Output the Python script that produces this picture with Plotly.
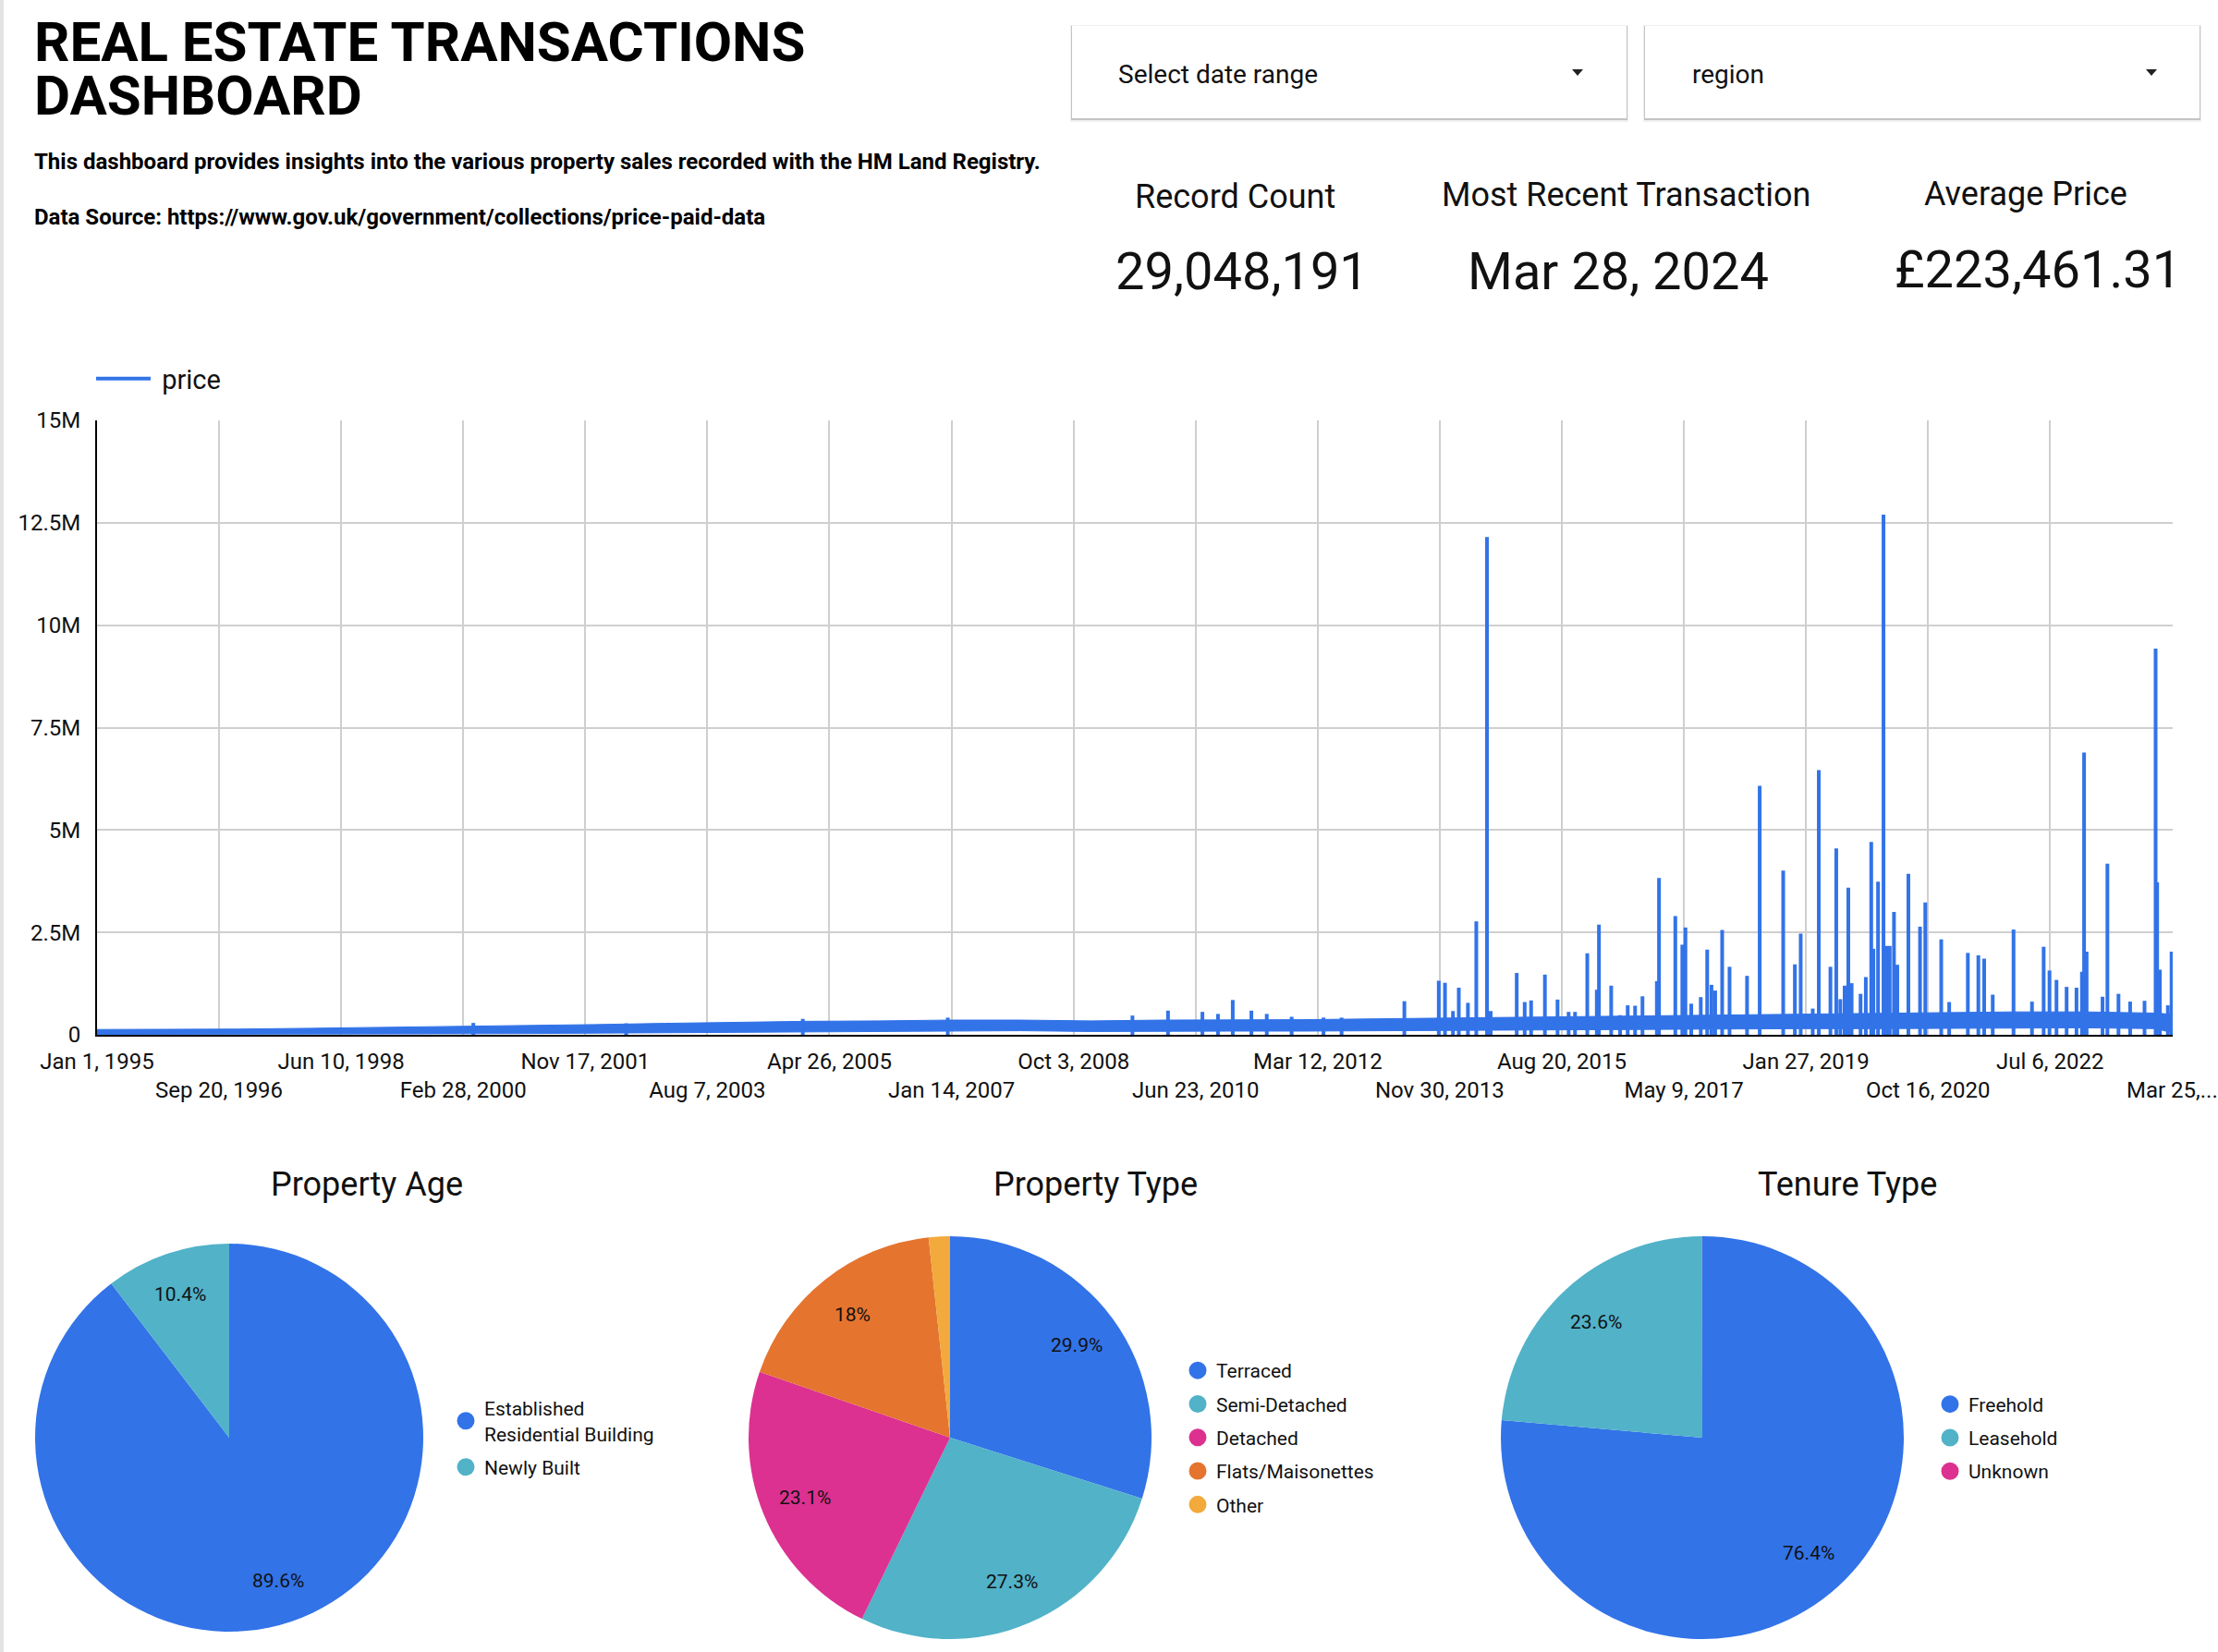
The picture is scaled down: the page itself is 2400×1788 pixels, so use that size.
import math
import plotly.graph_objects as go

W, H = 2400, 1788

# ---------------- data ----------------
title_lines = ["REAL ESTATE TRANSACTIONS", "DASHBOARD"]
subtitle = "This dashboard provides insights into the various property sales recorded with the HM Land Registry."
source_text = "Data Source: https://www.gov.uk/government/collections/price-paid-data"
filter_labels = ["Select date range", "region"]

kpi_labels = ["Record Count", "Most Recent Transaction", "Average Price"]
kpi_values = ["29,048,191", "Mar 28, 2024", "£223,461.31"]

# daily average price band (lower / upper edge of the dense noise band), £ millions
band_dates = ["1995-01-01", "1996-01-01", "1997-01-01", "1998-01-01", "1999-01-01",
              "2000-01-01", "2001-01-01", "2002-01-01", "2003-01-01", "2004-01-01",
              "2005-01-01", "2006-01-01", "2007-01-01", "2008-01-01", "2009-01-01",
              "2010-01-01", "2011-01-01", "2012-01-01", "2013-01-01", "2014-01-01",
              "2015-01-01", "2016-01-01", "2017-01-01", "2018-01-01", "2019-01-01",
              "2020-01-01", "2021-01-01", "2022-01-01", "2023-01-01", "2024-01-01",
              "2024-03-28"]
band_low_m = [0.01, 0.01, 0.01, 0.015, 0.02, 0.025, 0.03, 0.04, 0.05, 0.07,
              0.08, 0.09, 0.10, 0.10, 0.08, 0.09, 0.09, 0.09, 0.10, 0.10,
              0.11, 0.12, 0.13, 0.14, 0.15, 0.15, 0.16, 0.17, 0.17, 0.15,
              0.05]
band_high_m = [0.13, 0.13, 0.14, 0.16, 0.18, 0.21, 0.23, 0.25, 0.28, 0.31,
               0.33, 0.34, 0.36, 0.36, 0.34, 0.36, 0.36, 0.37, 0.39, 0.41,
               0.42, 0.44, 0.46, 0.48, 0.50, 0.53, 0.55, 0.56, 0.56, 0.53,
               0.50]

# individual high-price days (spikes), £ millions
spike_dates = ["2000-04-20", "2002-06-15", "2004-12-10", "2006-12-26", "2009-08-02",
               "2010-02-01", "2010-07-28", "2010-10-16", "2010-12-31", "2011-04-06",
               "2011-06-24", "2011-10-30", "2012-04-11", "2012-07-13", "2013-06-01",
               "2013-11-25", "2013-12-27", "2014-02-06", "2014-03-08", "2014-04-24",
               "2014-06-06", "2014-07-31", "2014-08-19", "2014-12-31", "2015-02-10",
               "2015-03-15", "2015-05-25", "2015-07-29", "2015-09-24", "2015-10-27",
               "2015-12-29", "2016-02-16", "2016-02-27", "2016-04-30", "2016-06-15",
               "2016-07-24", "2016-08-31", "2016-10-08", "2016-12-21", "2017-01-01",
               "2017-03-26", "2017-05-01", "2017-05-17", "2017-06-16", "2017-08-04",
               "2017-09-06", "2017-09-28", "2017-10-17", "2017-11-22", "2017-12-30",
               "2018-03-30", "2018-06-03", "2018-10-02", "2018-12-01", "2018-12-31",
               "2019-03-03", "2019-04-03", "2019-06-02", "2019-07-02", "2019-07-23",
               "2019-08-14", "2019-09-02", "2019-09-19", "2019-11-04", "2019-12-01",
               "2019-12-29", "2020-01-09", "2020-02-02", "2020-03-01", "2020-03-17",
               "2020-04-02", "2020-04-24", "2020-05-11", "2020-07-07", "2020-09-05",
               "2020-10-02", "2020-12-23", "2021-02-02", "2021-05-09", "2021-07-02",
               "2021-08-01", "2021-09-14", "2021-12-30", "2022-04-04", "2022-06-03",
               "2022-07-03", "2022-08-08", "2022-09-29", "2022-11-19", "2022-12-17",
               "2022-12-28", "2023-01-10", "2023-04-02", "2023-04-27", "2023-06-23",
               "2023-08-22", "2023-11-04", "2023-12-31", "2024-01-08", "2024-01-22",
               "2024-03-03", "2024-03-22"]
spike_price_m = [0.29, 0.28, 0.39, 0.42, 0.47,
                 0.59, 0.56, 0.51, 0.85, 0.59,
                 0.51, 0.44, 0.42, 0.42, 0.82,
                 1.32, 1.27, 0.58, 1.15, 0.78,
                 2.77, 12.15, 0.58, 1.51, 0.80,
                 0.84, 1.47, 0.86, 0.56, 0.56,
                 1.99, 1.10, 2.69, 1.20, 0.48,
                 0.72, 0.71, 0.94, 1.31, 3.83,
                 2.90, 2.20, 2.62, 0.76, 0.92,
                 2.08, 1.22, 1.08, 2.56, 1.66,
                 1.44, 6.08, 4.01, 1.72, 2.47,
                 0.64, 6.46, 1.66, 4.55, 0.87,
                 1.20, 3.59, 1.26, 1.00, 1.41,
                 4.71, 2.10, 3.74, 12.70, 2.17,
                 2.17, 3.00, 1.71, 3.93, 2.64,
                 3.23, 2.33, 0.80, 2.00, 1.94,
                 1.86, 0.98, 2.57, 0.81, 2.15,
                 1.57, 1.34, 1.17, 1.15, 1.54,
                 6.89, 2.03, 0.93, 4.18, 1.00,
                 0.81, 0.83, 9.43, 3.72, 1.59,
                 0.72, 2.03]

x_range = ["1995-01-01", "2024-03-28"]
x_tick_dates = ["1995-01-01", "1996-09-20", "1998-06-10", "2000-02-28", "2001-11-17",
                "2003-08-07", "2005-04-26", "2007-01-14", "2008-10-03", "2010-06-23",
                "2012-03-12", "2013-11-30", "2015-08-20", "2017-05-09", "2019-01-27",
                "2020-10-16", "2022-07-06", "2024-03-25"]
x_tick_labels = ["Jan 1, 1995", "Sep 20, 1996", "Jun 10, 1998", "Feb 28, 2000", "Nov 17, 2001",
                 "Aug 7, 2003", "Apr 26, 2005", "Jan 14, 2007", "Oct 3, 2008", "Jun 23, 2010",
                 "Mar 12, 2012", "Nov 30, 2013", "Aug 20, 2015", "May 9, 2017", "Jan 27, 2019",
                 "Oct 16, 2020", "Jul 6, 2022", "Mar 25,..."]
y_tick_values_m = [0, 2.5, 5, 7.5, 10, 12.5, 15]
y_tick_labels = ["0", "2.5M", "5M", "7.5M", "10M", "12.5M", "15M"]

pie_titles = ["Property Age", "Property Type", "Tenure Type"]
age_labels = ["Established<br>Residential Building", "Newly Built"]
age_share = [89.6, 10.4]
type_labels = ["Terraced", "Semi-Detached", "Detached", "Flats/Maisonettes", "Other"]
type_share = [29.9, 27.3, 23.1, 18.0, 1.7]
tenure_labels = ["Freehold", "Leasehold", "Unknown"]
tenure_share = [76.4, 23.6, 0.02]

# ---------------- styling ----------------
BLUE = "#3273E8"
PALETTE = ["#3273E8", "#51B2C8", "#DC3190", "#E5742F", "#F1AA3B"]
FONT = "Roboto"
TXT = "#111111"


def PX(x):
    return x / W


def PY(y):
    return 1 - y / H


fig = go.Figure()

# price band
fig.add_trace(go.Scatter(x=band_dates, y=band_low_m, mode="lines",
                         line=dict(color=BLUE, width=1), showlegend=False,
                         hoverinfo="skip"))
fig.add_trace(go.Scatter(x=band_dates, y=band_high_m, mode="lines", fill="tonexty",
                         fillcolor=BLUE, line=dict(color=BLUE, width=1),
                         showlegend=False, hoverinfo="skip"))

# spikes
sx, sy = [], []
for d, v in zip(spike_dates, spike_price_m):
    sx += [d, d, None]
    sy += [0, v, None]
fig.add_trace(go.Scatter(x=sx, y=sy, mode="lines", name="\u00a0price",
                         line=dict(color=BLUE, width=4), legend="legend"))

# pies
pie_geom = [  # centre x, centre y, radius (px)
    (248, 1556, 210),
    (1028, 1556, 218),
    (1842, 1556, 218),
]
pie_data = [(age_labels, age_share), (type_labels, type_share), (tenure_labels, tenure_share)]
legend_names = ["legend2", "legend3", "legend4"]

annotations = []
for (labels, vals), (cx, cy, r), lname in zip(pie_data, pie_geom, legend_names):
    fig.add_trace(go.Pie(labels=labels, values=vals, sort=False, direction="clockwise",
                         rotation=0, textinfo="none", showlegend=False,
                         marker=dict(colors=PALETTE[:len(vals)], line=dict(width=0)),
                         domain=dict(x=[PX(cx - r), PX(cx + r)], y=[PY(cy + r), PY(cy - r)])))
    total = sum(vals)
    cum = 0
    for v in vals:
        mid = (cum + v / 2) / total * 2 * math.pi
        cum += v
        if v / total * 100 < 5:
            continue
        lx = cx + 0.78 * r * math.sin(mid)
        ly = cy - 0.78 * r * math.cos(mid)
        annotations.append(dict(x=PX(lx), y=PY(ly), xref="paper", yref="paper",
                                xanchor="center", yanchor="middle",
                                text=f"{v:g}%", showarrow=False,
                                font=dict(family=FONT, size=21, color=TXT)))
    # legend entries (circle markers)
    for lab, col in zip(labels, PALETTE):
        fig.add_trace(go.Scatter(x=[None], y=[None], mode="markers", name=lab,
                                 marker=dict(color=col, size=19, symbol="circle",
                                             line=dict(color=col, width=3)),
                                 legend=lname, legendgroup=lname + lab, showlegend=True))

# titles / text
annotations += [
    dict(x=PX(35), y=PY(45), text=title_lines[0], xanchor="left", yanchor="middle", height=58,
         font=dict(family=FONT, size=60, color="#000", weight="bold")),
    dict(x=PX(35), y=PY(103), text=title_lines[1], xanchor="left", yanchor="middle", height=58,
         font=dict(family=FONT, size=60, color="#000", weight="bold")),
    dict(x=PX(35), y=PY(175), text=subtitle, xanchor="left", yanchor="middle",
         font=dict(family=FONT, size=24, color="#000", weight="bold")),
    dict(x=PX(35), y=PY(235), text=source_text, xanchor="left", yanchor="middle",
         font=dict(family=FONT, size=24, color="#000", weight="bold")),
    dict(x=PX(1208), y=PY(80), text=filter_labels[0], xanchor="left", yanchor="middle",
         font=dict(family=FONT, size=28, color=TXT)),
    dict(x=PX(1829), y=PY(80), text=filter_labels[1], xanchor="left", yanchor="middle",
         font=dict(family=FONT, size=28, color=TXT)),
]
kpi_label_pos = [(1336, 213), (1760, 211), (2192, 210)]
kpi_value_pos = [(1344, 294), (1751, 294), (2205, 292)]
for lab, val, (lx, ly), (vx, vy) in zip(kpi_labels, kpi_values, kpi_label_pos, kpi_value_pos):
    annotations.append(dict(x=PX(lx), y=PY(ly), text=lab, xanchor="center", yanchor="middle",
                            font=dict(family=FONT, size=36, color=TXT)))
    annotations.append(dict(x=PX(vx), y=PY(vy), text=val, xanchor="center", yanchor="middle",
                            font=dict(family=FONT, size=56, color=TXT)))
for t, x in zip(pie_titles, [397, 1185, 1999]):
    annotations.append(dict(x=PX(x), y=PY(1282), text=t, xanchor="center", yanchor="middle",
                            font=dict(family=FONT, size=36, color=TXT)))
for a in annotations:
    a.setdefault("xref", "paper")
    a.setdefault("yref", "paper")
    a.setdefault("showarrow", False)

# dropdown boxes
shapes = [dict(type="rect", xref="paper", yref="paper", x0=0, x1=PX(4), y0=0, y1=1,
               fillcolor="#e3e3e3", line=dict(width=0))]
for bx0, bx1 in [(1160, 1760), (1780, 2380)]:
    by0, by1 = 28, 128
    shapes.append(dict(type="rect", xref="paper", yref="paper", x0=PX(bx0 - 2), x1=PX(bx1 + 2),
                       y0=PY(by1 + 4), y1=PY(by0 - 1), fillcolor="rgba(0,0,0,0.06)", line=dict(width=0)))
    shapes.append(dict(type="rect", xref="paper", yref="paper", x0=PX(bx0 - 1), x1=PX(bx1 + 1),
                       y0=PY(by1 + 2), y1=PY(by0), fillcolor="rgba(0,0,0,0.18)", line=dict(width=0)))
    shapes.append(dict(type="rect", xref="paper", yref="paper", x0=PX(bx0), x1=PX(bx1),
                       y0=PY(by1), y1=PY(by0), fillcolor="white", line=dict(width=0)))
for ax in [1707, 2328]:
    path = f"M {PX(ax - 6)} {PY(75)} L {PX(ax + 6)} {PY(75)} L {PX(ax)} {PY(82)} Z"
    shapes.append(dict(type="path", xref="paper", yref="paper", path=path,
                       fillcolor="#222", line=dict(width=0)))

tick_text = [t if i % 2 == 0 else "<br>" + t for i, t in enumerate(x_tick_labels)]

legend_common = dict(bgcolor="rgba(0,0,0,0)", borderwidth=0, xanchor="left", yanchor="middle",
                     font=dict(family=FONT, size=21, color=TXT), tracegroupgap=6,
                     orientation="v")
fig.update_layout(
    width=W, height=H, margin=dict(l=0, r=0, t=0, b=0, pad=0, autoexpand=False),
    paper_bgcolor="white", plot_bgcolor="white",
    font=dict(family=FONT, color=TXT),
    xaxis=dict(type="date", range=x_range, domain=[PX(105), PX(2351)],
               tickvals=x_tick_dates, ticktext=tick_text, tickangle=0,
               tickfont=dict(family=FONT, size=24, color=TXT),
               showgrid=True, gridcolor="#cfcfcf", gridwidth=1.5,
               showline=True, linecolor="#000", linewidth=2, ticks="",
               zeroline=False, ticklabeloverflow="allow", ticklabelstandoff=6,
               fixedrange=True, automargin=False),
    yaxis=dict(range=[0, 15], domain=[PY(1120), PY(455)],
               tickvals=y_tick_values_m, ticktext=y_tick_labels,
               tickfont=dict(family=FONT, size=24, color=TXT),
               showgrid=True, gridcolor="#cfcfcf", gridwidth=1.5,
               showline=True, linecolor="#000", linewidth=2, ticks="",
               zeroline=False, ticklabelstandoff=11, fixedrange=True, automargin=False),
    legend=dict(x=PX(99), y=PY(410), xanchor="left", yanchor="middle",
                font=dict(family=FONT, size=29, color=TXT), itemwidth=59,
                bgcolor="rgba(0,0,0,0)"),
    legend2=dict(legend_common, x=PX(484), y=PY(1556)),
    legend3=dict(legend_common, x=PX(1276), y=PY(1556)),
    legend4=dict(legend_common, x=PX(2090), y=PY(1556)),
    annotations=annotations,
    shapes=shapes,
    showlegend=True,
)

fig.write_html("out.html")
